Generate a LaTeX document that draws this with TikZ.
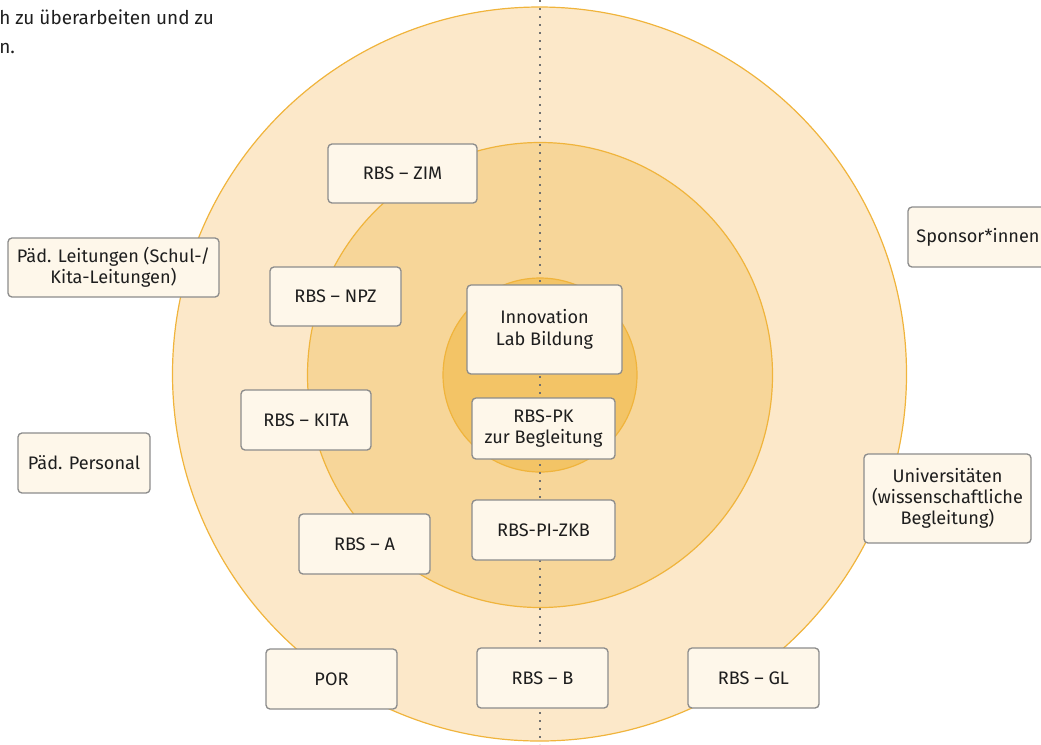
\documentclass[tikz,border=0pt]{standalone}
\usepackage{fontspec}
\setmainfont{Fira Sans}
\definecolor{ringA}{HTML}{FCE8C9}
\definecolor{ringB}{HTML}{F7D699}
\definecolor{ringC}{HTML}{F3C466}
\definecolor{ringEdge}{HTML}{F0B43C}
\definecolor{boxFill}{HTML}{FEF7EA}
\definecolor{boxEdge}{HTML}{8C8C8C}
\definecolor{txt}{HTML}{1E1E1E}
\tikzset{
  box/.style={draw=boxEdge, fill=boxFill, line width=1pt, rounded corners=3pt,
    align=center, inner sep=0pt, text=txt,
    font=\fontsize{13.6}{16}\selectfont},
  sz/.style 2 args={minimum width=#1*0.75pt, minimum height=#2*0.75pt},
  ring/.style={draw=ringEdge, line width=0.9pt},
}
\begin{document}
\begin{tikzpicture}[x=0.75pt,y=-0.75pt]
\useasboundingbox (0,0) rectangle (1041,744);
\clip (0,0) rectangle (1041,744);
% rings
\fill[ringA] (539.5,374) circle (367);
\draw[ring] (539.5,374) circle (367);
\fill[ringB] (540,375) circle (232.5);
\draw[ring] (540,375) circle (232.5);
\fill[ringC] (540,375) circle (97);
\draw[ring] (540,375) circle (97);
% dotted axis
\coordinate (top) at (540,0);
\coordinate (bot) at (540,744);
\draw[boxEdge!80!black, line width=1.3pt, dash pattern=on 1.3pt off 4.7pt] (top) -- (bot);
% top-left text fragment
\node[anchor=base west, inner sep=0pt, text=txt, font=\fontsize{14.2}{16}\selectfont] (t1) at (-1,24) {h zu überarbeiten und zu};
\node[anchor=base west, inner sep=0pt, text=txt, font=\fontsize{14.2}{16}\selectfont] (t2) at (-1,53) {n.};
% boxes
\node[box, sz={149}{59}] (zim) at (402.5,173.5) {RBS – ZIM};
\node[box, sz={211}{59}] (leit) at (113.5,267.5) {Päd. Leitungen (Schul-/\\Kita-Leitungen)};
\node[box, sz={131}{59}] (npz) at (335.5,296.5) {RBS – NPZ};
\node[box, sz={155}{89}] (ilb) at (544.5,329.5) {Innovation\\Lab Bildung};
\node[box, sz={140}{60}] (spons) at (978,237) {Sponsor*innen};
\node[box, sz={130}{60}] (kita) at (306,420) {RBS – KITA};
\node[box, sz={143}{61}] (pk) at (543.5,428.5) {RBS-PK\\zur Begleitung};
\node[box, sz={132}{60}] (pers) at (84,463) {Päd. Personal};
\node[box, sz={167}{89}] (uni) at (947.5,498.5) {Universitäten\\(wissenschaftliche\\Begleitung)};
\node[box, sz={131}{60}] (rbsa) at (364.5,544) {RBS – A};
\node[box, sz={143}{60}] (zkb) at (543.5,530) {RBS-PI-ZKB};
\node[box, sz={131}{60}] (por) at (331.5,679) {POR};
\node[box, sz={131}{60}] (rbsb) at (542.5,678) {RBS – B};
\node[box, sz={131}{60}] (gl) at (753.5,678) {RBS – GL};
\end{tikzpicture}
\end{document}
